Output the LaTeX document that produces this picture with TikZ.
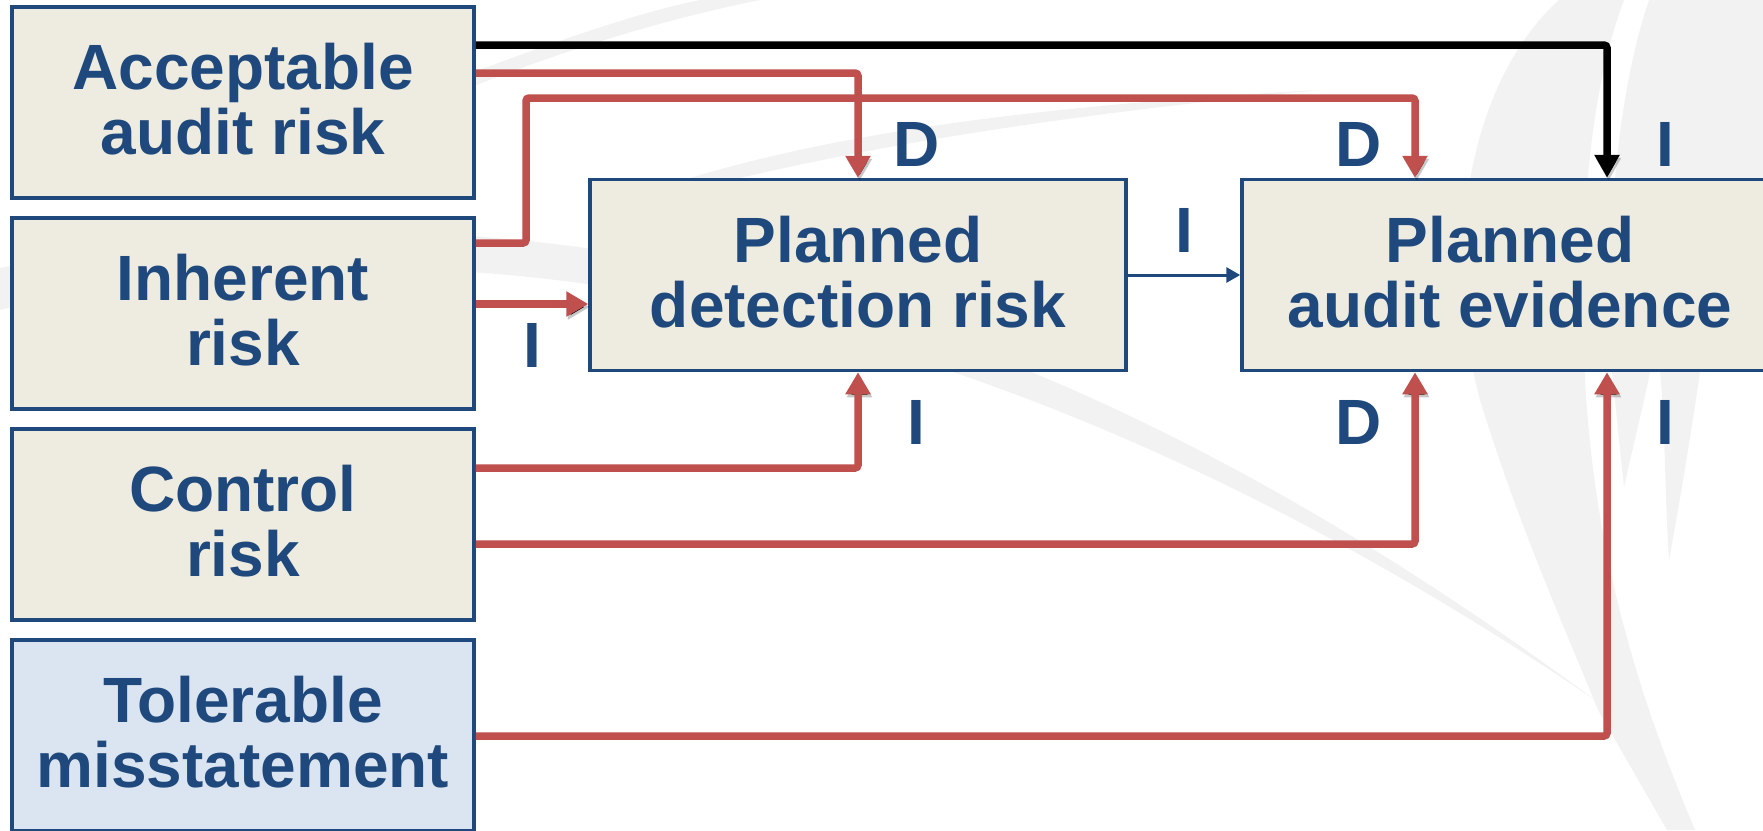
\documentclass[tikz,border=0pt]{standalone}
\usepackage{fontspec}
\setmainfont{Liberation Sans}
\usetikzlibrary{arrows.meta,calc}
\definecolor{navy}{HTML}{1F497D}
\definecolor{beige}{HTML}{EEECE1}
\definecolor{lblue}{HTML}{DBE5F1}
\definecolor{redc}{HTML}{C0504D}
\definecolor{wm}{HTML}{F2F2F2}
\begin{document}
\begin{tikzpicture}[x=1pt,y=-1pt,
  box/.style={draw=navy, line width=3.5pt, fill=beige, minimum width=462pt, minimum height=191pt,
    inner sep=0pt, align=center, text=navy, text depth=7pt, font=\fontsize{64}{65}\selectfont\bfseries},
  bigbox/.style={box, minimum width=536pt, minimum height=191pt},
  shade/.style={preaction={draw=black, draw opacity=0.22, transform canvas={shift={(1.5pt,-3pt)}}}},
  redarrow/.style={shade, draw=redc, line width=7.5pt, rounded corners=3pt, -{Triangle[width=24pt,length=22pt]}},
  blkarrow/.style={shade, draw=black, line width=7.5pt, rounded corners=3pt, -{Triangle[width=24pt,length=23pt]}},
  bluearrow/.style={draw=navy, line width=3pt, -{Triangle[width=15pt,length=14pt]}},
  lab/.style={text=navy, font=\fontsize{64}{64}\selectfont\bfseries, anchor=base, inner sep=0pt}]
\useasboundingbox (0,0) rectangle (1763,830);
\clip (0,0) rectangle (1763,830);
\fill[white] (0,0) rectangle (1763,830);
% watermark swooshes
\fill[wm] (0,268) .. controls (500,170) and (1000,260) .. (1595,700)
  .. controls (1050,330) and (500,190) .. (0,310) -- cycle;
\fill[wm] (1559,0) .. controls (1470,80) and (1440,250) .. (1480,400)
  .. controls (1520,530) and (1570,640) .. (1598,710) -- (1667,830) -- (1695,830)
  .. controls (1640,700) and (1595,560) .. (1585,380)
  .. controls (1578,220) and (1590,90) .. (1624,0) -- cycle;
\fill[wm] (1649,0) -- (1763,0) -- (1763,180) -- (1700,372)
  .. controls (1690,440) and (1680,500) .. (1669,560)
  .. controls (1665,500) and (1665,420) .. (1660,372) -- (1650,372)
  .. controls (1640,420) and (1632,450) .. (1624,487)
  .. controls (1620,450) and (1616,410) .. (1612,372)
  .. controls (1605,250) and (1615,100) .. (1649,0) -- cycle;
\fill[wm] (474,72) .. controls (560,40) and (640,12) .. (700,0) -- (760,0)
  .. controls (660,20) and (560,52) .. (474,86) -- cycle;
\fill[wm] (690,178) .. controls (850,130) and (1050,105) .. (1320,90)
  .. controls (1060,115) and (880,145) .. (740,178) -- cycle;
% boxes
\node[box] (A) at (243,102.5) {Acceptable\\audit risk};
\node[box] (B) at (243,313.5) {Inherent\\risk};
\node[box] (C) at (243,524.5) {Control\\risk};
\node[box, fill=lblue] (D) at (243,735.5) {Tolerable\\misstatement};
\node[bigbox] (P) at (858,275) {Planned\\detection risk};
\node[bigbox] (E) at (1510,275) {Planned\\audit evidence};
% connectors
\draw[blkarrow] (A.east |- 0,45) -| ([xshift=97pt]E.north);
\draw[redarrow] (A.east |- 0,73) -| (P.north);
\draw[redarrow] (B.east |- 0,243) -| (526,98) -| ([xshift=-95pt]E.north);
\draw[redarrow] (B.east |- 0,304) -- (P.west |- 0,304);
\draw[bluearrow] (P.east) -- (E.west);
\draw[redarrow] (C.east |- 0,468) -| (P.south);
\draw[redarrow] (C.east |- 0,544) -| ([xshift=-95pt]E.south);
\draw[redarrow] (D.east |- 0,736) -| ([xshift=97pt]E.south);
% labels
\node[lab] (l1) at (917,166) {D};
\node[lab] (l2) at (1359,166) {D};
\node[lab] (l3) at (1665,166) {I};
\node[lab] (l4) at (532,367) {I};
\node[lab] (l5) at (1184,252) {I};
\node[lab] (l6) at (916,444) {I};
\node[lab] (l7) at (1359,444) {D};
\node[lab] (l8) at (1665,444) {I};
\end{tikzpicture}
\end{document}
